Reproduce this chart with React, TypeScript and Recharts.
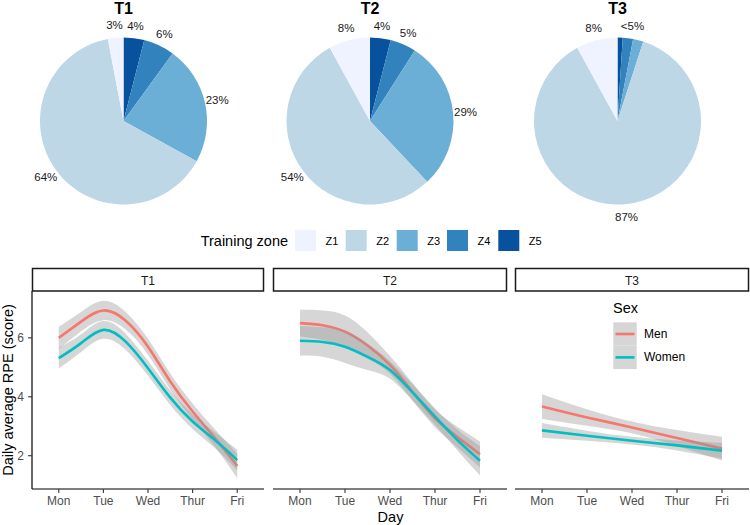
import React from "react";
import { PieChart, Pie, Cell, ComposedChart, Area, Line, XAxis, YAxis } from "recharts";

// ---------- data ----------
const zones = ["Z1", "Z2", "Z3", "Z4", "Z5"];
const zoneColors = ["#EFF3FF", "#BDD7E7", "#6BAED6", "#3182BD", "#08519C"];
const periods = ["T1", "T2", "T3"];
// percentages in Z1..Z5 order
const t1Zones = [3, 64, 23, 6, 4];
const t2Zones = [8, 54, 29, 5, 4];
const t3Zones = [8, 87, 2, 2, 1];
const t3MinorLabel = "<5%";

const dayLabels = ["Mon", "Tue", "Wed", "Thur", "Fri"];
const dayTicks = [1, 2, 3, 4, 5];
const yTicks = [2, 4, 6];
const fineX = [1, 1.5, 2, 2.5, 3, 3.5, 4, 4.5, 5];

const t1Men = [6.0, 6.55, 6.93, 6.58, 5.7, 4.52, 3.5, 2.6, 1.65];
const t1MenLo = [5.62, 6.22, 6.6, 6.28, 5.43, 4.25, 3.23, 2.3, 1.23];
const t1MenHi = [6.38, 6.88, 7.26, 6.88, 5.97, 4.79, 3.77, 2.9, 2.07];
const t1Women = [5.31, 5.82, 6.27, 5.87, 4.97, 3.97, 3.16, 2.53, 1.85];
const t1WomenLo = [4.96, 5.52, 5.97, 5.6, 4.72, 3.72, 2.91, 2.26, 1.5];
const t1WomenHi = [5.66, 6.12, 6.57, 6.14, 5.22, 4.22, 3.41, 2.8, 2.2];

const t2Men = [6.5, 6.43, 6.21, 5.74, 5.08, 4.17, 3.27, 2.63, 2.05];
const t2MenLo = [6.05, 5.93, 5.66, 5.29, 4.78, 3.87, 2.97, 2.28, 1.6];
const t2MenHi = [6.95, 6.93, 6.76, 6.19, 5.38, 4.47, 3.57, 2.98, 2.48];
const t2Women = [5.9, 5.86, 5.7, 5.36, 4.91, 4.15, 3.33, 2.53, 1.83];
const t2WomenLo = [5.4, 5.36, 5.15, 4.91, 4.61, 3.87, 3.05, 2.18, 1.33];
const t2WomenHi = [6.4, 6.36, 6.25, 5.81, 5.21, 4.43, 3.61, 2.88, 2.33];

const t3X = [1, 2, 3, 4, 5];
const t3Men = [3.67, 3.3, 2.96, 2.6, 2.24];
const t3MenLo = [3.25, 3.02, 2.76, 2.33, 1.84];
const t3MenHi = [4.09, 3.58, 3.16, 2.87, 2.64];
const t3Women = [2.86, 2.68, 2.51, 2.35, 2.17];
const t3WomenLo = [2.61, 2.51, 2.38, 2.18, 1.9];
const t3WomenHi = [3.11, 2.85, 2.64, 2.52, 2.44];

const sexes = ["Men", "Women"];
const sexColors = ["#F8766D", "#00BFC4"];

const FONT = "'Liberation Sans', Arial, sans-serif";

// ---------- pies ----------
function pieData(vals: number[]) {
  // clockwise from 12 o'clock: Z5, Z4, Z3, Z2, Z1
  return vals
    .map((v, i) => ({ zone: zones[i], value: v, color: zoneColors[i] }))
    .reverse();
}

const makeLabel = (labels: string[]) => (props: any) => {
  const { cx, cy, midAngle, index } = props;
  const text = labels[index];
  if (!text) return <g key={"l" + index} />;
  const r = 96;
  const rad = Math.PI / 180;
  const x = cx + r * Math.cos(-midAngle * rad);
  const y = cy + r * Math.sin(-midAngle * rad);
  return (
    <text
      key={"l" + index}
      x={x}
      y={y}
      textAnchor="middle"
      dominantBaseline="central"
      fontSize={11.5}
      fill="#1A1A1A"
      fontFamily={FONT}
    >
      {text}
    </text>
  );
};

const pieCenters = [123.5, 370, 617.5];

function Pies() {
  const sets = [t1Zones, t2Zones, t3Zones];
  return (
    <PieChart width={750} height={260} margin={{ top: 0, right: 0, bottom: 0, left: 0 }}>
      {sets.map((vals, k) => {
        const d = pieData(vals);
        const labels =
          k === 2
            ? d.map((e) => (e.zone === "Z1" || e.zone === "Z2" ? e.value + "%" : ""))
            : d.map((e) => e.value + "%");
        return (
          <Pie
            key={"p" + k}
            data={d}
            dataKey="value"
            cx={pieCenters[k]}
            cy={121}
            outerRadius={83.5}
            startAngle={90}
            endAngle={-270}
            stroke="none"
            labelLine={false}
            label={makeLabel(labels)}
            isAnimationActive={false}
          >
            {d.map((e, i) => (
              <Cell key={i} fill={e.color} />
            ))}
          </Pie>
        );
      })}
      <Pie
        data={[
          { value: t3Zones[2] + t3Zones[3] + t3Zones[4] },
          { value: t3Zones[0] + t3Zones[1] },
        ]}
        dataKey="value"
        cx={pieCenters[2]}
        cy={121}
        outerRadius={83.5}
        startAngle={90}
        endAngle={-270}
        fill="none"
        stroke="none"
        labelLine={false}
        label={makeLabel([t3MinorLabel, ""])}
        isAnimationActive={false}
      />
    </PieChart>
  );
}

// ---------- line panels ----------
function buildRows(x: number[], m: number[], mLo: number[], mHi: number[], w: number[], wLo: number[], wHi: number[]) {
  return x.map((xv, i) => ({
    x: xv,
    men: m[i],
    women: w[i],
    menBand: [mLo[i], mHi[i]],
    womenBand: [wLo[i], wHi[i]],
  }));
}

const panels = [
  { left: 32, right: 264, rows: buildRows(fineX, t1Men, t1MenLo, t1MenHi, t1Women, t1WomenLo, t1WomenHi), showY: true },
  { left: 273, right: 507, rows: buildRows(fineX, t2Men, t2MenLo, t2MenHi, t2Women, t2WomenLo, t2WomenHi), showY: false },
  { left: 515, right: 749, rows: buildRows(t3X, t3Men, t3MenLo, t3MenHi, t3Women, t3WomenLo, t3WomenHi), showY: false },
];

const PLOT_TOP = 291;
const PLOT_BOTTOM = 489;

function Panel({ p }: { p: any }) {
  const yW = 30;
  return (
    <div style={{ position: "absolute", left: 0, top: 0 }}>
      <ComposedChart
        width={750}
        height={525}
        data={p.rows}
        margin={{
          top: PLOT_TOP,
          bottom: 525 - PLOT_BOTTOM - 30,
          left: p.showY ? p.left - yW : p.left,
          right: 750 - p.right,
        }}
      >
        <XAxis
          dataKey="x"
          type="number"
          domain={[0.4, 5.6]}
          ticks={dayTicks}
          allowDataOverflow
          tickFormatter={(v: number) => dayLabels[v - 1]}
          height={30}
          tickSize={4}
          tickMargin={3}
          axisLine={{ stroke: "#000", strokeWidth: 1.2 }}
          tickLine={{ stroke: "#333", strokeWidth: 1.1 }}
          tick={{ fill: "#4D4D4D", fontSize: 12, fontFamily: FONT }}
          interval={0}
        />
        <YAxis
          type="number"
          domain={[0.87, 7.59]}
          ticks={yTicks}
          allowDataOverflow
          hide={!p.showY}
          width={yW}
          tickSize={4}
          tickMargin={4}
          axisLine={{ stroke: "#000", strokeWidth: 1.2 }}
          tickLine={{ stroke: "#333", strokeWidth: 1.1 }}
          tick={{ fill: "#4D4D4D", fontSize: 12, fontFamily: FONT }}
        />
        <Area
          dataKey="menBand"
          type="natural"
          fill="#999999"
          fillOpacity={0.4}
          stroke="none"
          isAnimationActive={false}
          zIndex={100}
        />
        <Line
          dataKey="men"
          type="natural"
          stroke={sexColors[0]}
          strokeWidth={2.6}
          dot={false}
          isAnimationActive={false}
          zIndex={101}
        />
        <Area
          dataKey="womenBand"
          type="natural"
          fill="#999999"
          fillOpacity={0.4}
          stroke="none"
          isAnimationActive={false}
          zIndex={102}
        />
        <Line
          dataKey="women"
          type="natural"
          stroke={sexColors[1]}
          strokeWidth={2.6}
          dot={false}
          isAnimationActive={false}
          zIndex={103}
        />
      </ComposedChart>
    </div>
  );
}

// ---------- overlay text / legends ----------
function Overlay() {
  const zoneBoxX = [295, 345.7, 396.7, 447, 498.3];
  return (
    <svg
      width={750}
      height={525}
      style={{ position: "absolute", left: 0, top: 0, pointerEvents: "none" }}
      fontFamily={FONT}
    >
      {periods.map((t, i) => (
        <text key={"t" + i} x={pieCenters[i]} y={13.5} textAnchor="middle" fontWeight="bold" fontSize={16} fill="#000">
          {t}
        </text>
      ))}
      {/* training zone legend */}
      <text x={200.7} y={241} dominantBaseline="central" fontSize={14.5} fill="#000">
        Training zone
      </text>
      {zones.map((z, i) => (
        <g key={"z" + i}>
          <rect x={zoneBoxX[i]} y={230} width={21} height={21} fill={zoneColors[i]} />
          <text x={zoneBoxX[i] + 30.5} y={241} dominantBaseline="central" fontSize={11} fill="#000">
            {z}
          </text>
        </g>
      ))}
      {/* strips */}
      {panels.map((p, i) => (
        <g key={"s" + i}>
          <rect
            x={p.left + 0.5}
            y={268.5}
            width={p.right - p.left - 1}
            height={PLOT_TOP - 268.5}
            fill="#fff"
            stroke="#1A1A1A"
            strokeWidth={1.5}
          />
          <text
            x={(p.left + p.right) / 2}
            y={280.5}
            textAnchor="middle"
            dominantBaseline="central"
            fontSize={12}
            fill="#1A1A1A"
          >
            {periods[i]}
          </text>
        </g>
      ))}
      {/* axis titles */}
      <text
        x={0}
        y={0}
        transform="translate(7.5,390) rotate(-90)"
        textAnchor="middle"
        dominantBaseline="central"
        fontSize={14.5}
        fill="#000"
      >
        Daily average RPE (score)
      </text>
      <text x={390.5} y={517} textAnchor="middle" dominantBaseline="central" fontSize={14.5} fill="#000">
        Day
      </text>
      {/* sex legend */}
      <text x={613} y={308} dominantBaseline="central" fontSize={14.5} fill="#000">
        Sex
      </text>
      {sexes.map((s, i) => (
        <g key={"sx" + i}>
          <rect x={613.3} y={322.3 + i * 23.4} width={23.4} height={23.4} fill="#D6D6D6" />
          <line
            x1={615.5}
            x2={634.5}
            y1={334 + i * 23.4}
            y2={334 + i * 23.4}
            stroke={sexColors[i]}
            strokeWidth={2.6}
          />
          <text x={644} y={334 + i * 23.4} dominantBaseline="central" fontSize={12} fill="#000">
            {s}
          </text>
        </g>
      ))}
    </svg>
  );
}

export default function App() {
  return (
    <div
      style={{
        position: "absolute",
        left: 0,
        top: 0,
        width: 750,
        height: 525,
        background: "#fff",
        overflow: "hidden",
      }}
    >
      <div style={{ position: "absolute", left: 0, top: 0 }}>
        <Pies />
      </div>
      {panels.map((p, i) => (
        <Panel key={i} p={p} />
      ))}
      <Overlay />
    </div>
  );
}
